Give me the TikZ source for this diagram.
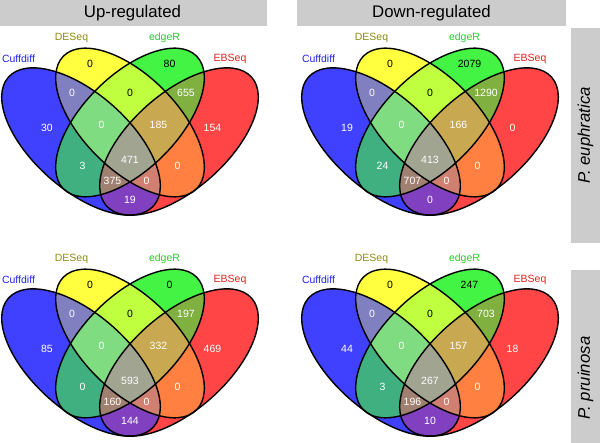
\documentclass[tikz,border=0pt]{standalone}
\usepackage{fontspec}
\setmainfont{Liberation Sans}
\definecolor{stripgray}{HTML}{CCCCCC}
\definecolor{fB}{HTML}{4040FF}
\definecolor{fY}{HTML}{FFFF40}
\definecolor{fG}{HTML}{44F444}
\definecolor{fR}{HTML}{FF4545}
\definecolor{fBY}{HTML}{8080C0}
\definecolor{fBG}{HTML}{40B080}
\definecolor{fBR}{HTML}{8040C0}
\definecolor{fYG}{HTML}{C0FF40}
\definecolor{fYR}{HTML}{FF8040}
\definecolor{fGR}{HTML}{80B040}
\definecolor{fBYG}{HTML}{80DC80}
\definecolor{fBYR}{HTML}{D08070}
\definecolor{fBGR}{HTML}{A08070}
\definecolor{fYGR}{HTML}{C8A850}
\definecolor{fBYGR}{HTML}{A0A490}
\definecolor{tB}{HTML}{2020E8}
\definecolor{tY}{HTML}{8B8B10}
\definecolor{tG}{HTML}{22D022}
\definecolor{tR}{HTML}{E02020}

\tikzset{
  outline/.style={draw=black, line width=1.4pt},
  count/.style={font=\fontsize{10.5}{12}\selectfont, text=white, inner sep=0pt},
  catname/.style={font=\fontsize{10.5}{12}\selectfont, inner sep=0pt},
  banner/.style={fill=stripgray, inner sep=0pt, font=\fontsize{16.8}{20}\selectfont},
}

\def\ellB{(cB) circle[x radius=97, y radius=48, rotate=-41.5]}
\def\ellY{(cY) circle[x radius=94, y radius=47, rotate=-45]}
\def\ellG{(cG) circle[x radius=94, y radius=47, rotate=45]}
\def\ellR{(cR) circle[x radius=97, y radius=48, rotate=41.5]}

% #1,#2: panel origin, #3: counts B,Y,G,R,BY,YG,GR,BYG,YGR,BYGR,BG,YR,BGR,BYR,BR
\newcommand\vennquad[3]{%
  \begin{scope}[shift={(#1,#2)}]
    \coordinate (cB) at (-49,-141.5);
    \coordinate (cY) at (0,-122.5);
    \coordinate (cG) at (0,-122.5);
    \coordinate (cR) at (49,-141.5);
    \fill[fB] \ellB;
    \fill[fY] \ellY;
    \fill[fG] \ellG;
    \fill[fR] \ellR;
    \begin{scope}\clip \ellB; \fill[fBY] \ellY; \end{scope}
    \begin{scope}\clip \ellB; \fill[fBG] \ellG; \end{scope}
    \begin{scope}\clip \ellB; \fill[fBR] \ellR; \end{scope}
    \begin{scope}\clip \ellY; \fill[fYG] \ellG; \end{scope}
    \begin{scope}\clip \ellY; \fill[fYR] \ellR; \end{scope}
    \begin{scope}\clip \ellG; \fill[fGR] \ellR; \end{scope}
    \begin{scope}\clip \ellB; \clip \ellY; \fill[fBYG] \ellG; \end{scope}
    \begin{scope}\clip \ellB; \clip \ellY; \fill[fBYR] \ellR; \end{scope}
    \begin{scope}\clip \ellB; \clip \ellG; \fill[fBGR] \ellR; \end{scope}
    \begin{scope}\clip \ellY; \clip \ellG; \fill[fYGR] \ellR; \end{scope}
    \begin{scope}\clip \ellB; \clip \ellY; \clip \ellG; \fill[fBYGR] \ellR; \end{scope}
    \draw[outline] \ellB;
    \draw[outline] \ellY;
    \draw[outline] \ellG;
    \draw[outline] \ellR;
    \node[catname, text=tB] (nB) at (-111.5,-59) {Cuffdiff};
    \node[catname, text=tY] (nY) at (-58.5,-38) {DESeq};
    \node[catname, text=tG] (nG) at (34.5,-38) {edgeR};
    \node[catname, text=tR] (nR) at (100,-59) {EBSeq};
    \coordinate (rB) at (-83,-128);
    \coordinate (rY) at (-40,-64);
    \coordinate (rG) at (39.5,-64);
    \coordinate (rR) at (82.5,-128);
    \coordinate (rBY) at (-58,-93);
    \coordinate (rYG) at (0,-93);
    \coordinate (rGR) at (56,-93);
    \coordinate (rBYG) at (-28.5,-124.5);
    \coordinate (rYGR) at (28.5,-124.5);
    \coordinate (rBYGR) at (0,-159.5);
    \coordinate (rBG) at (-47.5,-166);
    \coordinate (rYR) at (47.5,-166);
    \coordinate (rBGR) at (-17.5,-180.7);
    \coordinate (rBYR) at (16.5,-180.7);
    \coordinate (rBR) at (0,-200);
    \foreach \r/\c [count=\i from 0] in {B/white,Y/black,G/black,R/white,BY/white,YG/black,GR/white,BYG/white,YGR/white,BYGR/white,BG/white,YR/white,BGR/white,BYR/white,BR/white}{
      \pgfmathtruncatemacro\v{{#3}[\i]}
      \node[count, text=\c] at (r\r) {\v};
    }
  \end{scope}}

\begin{document}
\begin{tikzpicture}[x=1pt, y=1pt]
\useasboundingbox (0,0) rectangle (600,442);
\clip (0,0) rectangle (600,442);

\node[banner, minimum width=269, minimum height=26] (up) at (132.5,429) {Up-regulated};
\node[banner, minimum width=269, minimum height=26] (down) at (431.5,429) {Down-regulated};
\node[banner, minimum width=215, minimum height=29, rotate=90] (euph) at (585.5,306.5) {\itshape P. euphratica};
\node[banner, minimum width=216, minimum height=29, rotate=90] (pruin) at (585.5,64) {\itshape P. pruinosa};

\vennquad{130}{442}{30,0,80,154,0,0,655,0,185,471,3,0,375,0,19}
\vennquad{430}{442}{19,0,2079,0,0,0,1290,0,166,413,24,0,707,0,0}
\vennquad{130}{221}{85,0,0,469,0,0,197,0,332,593,0,0,160,0,144}
\vennquad{430}{221}{44,0,247,18,0,0,703,0,157,267,3,0,196,0,10}
\end{tikzpicture}
\end{document}
